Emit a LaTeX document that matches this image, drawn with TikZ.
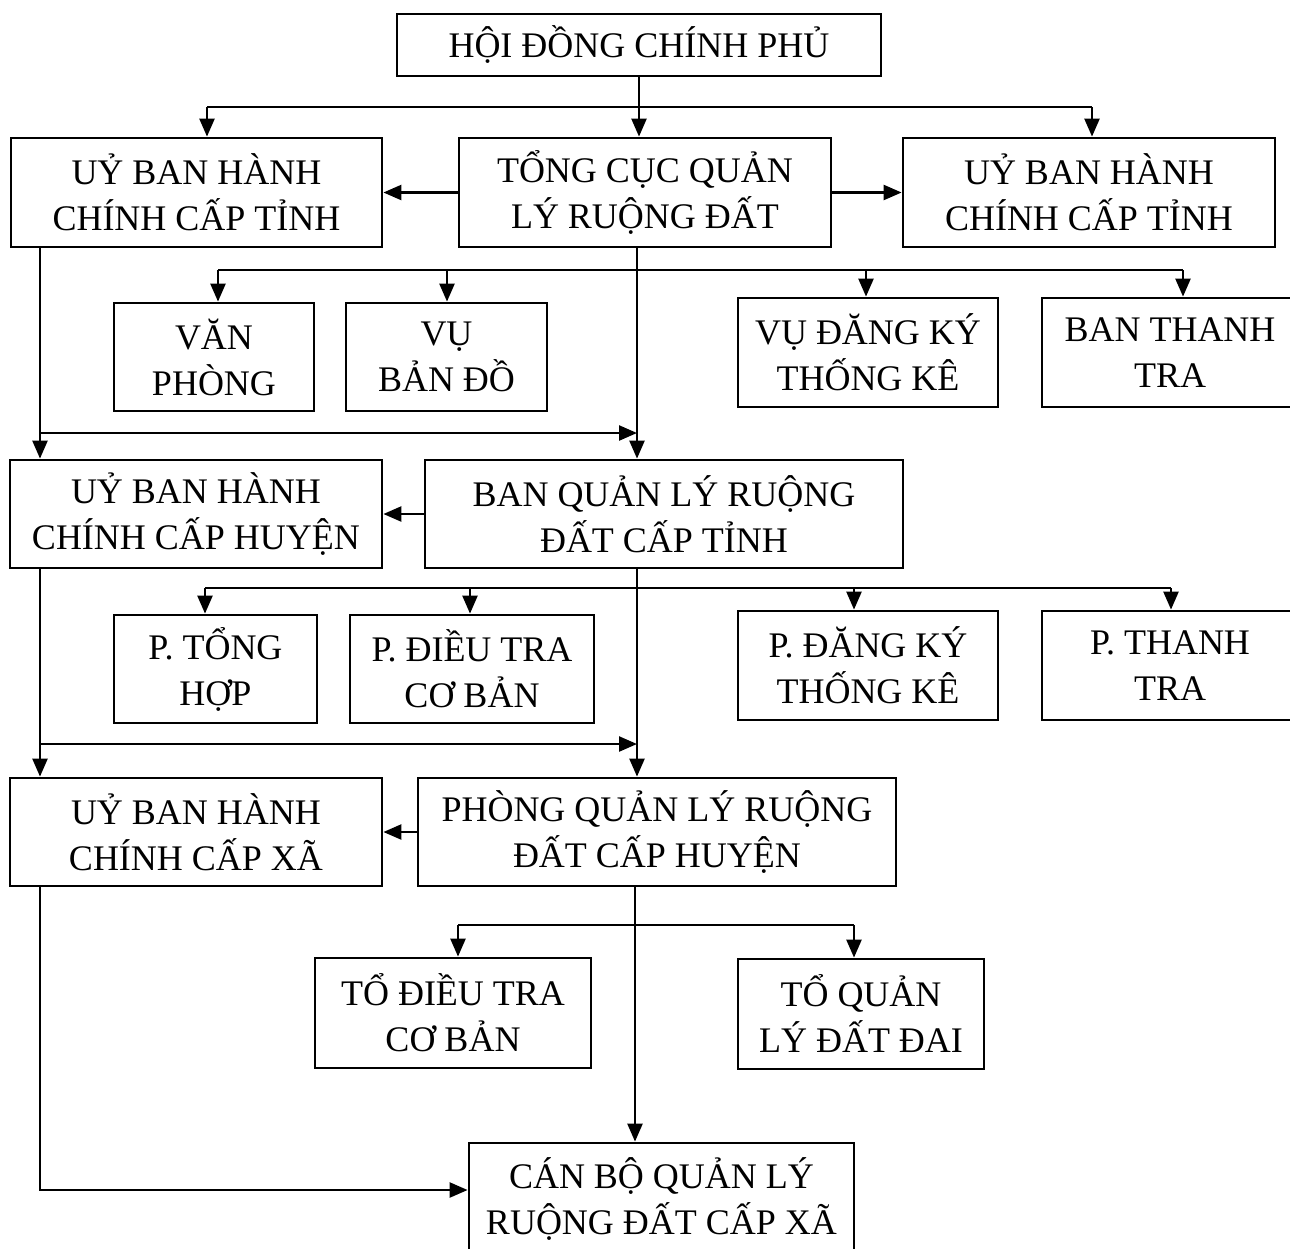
\documentclass[tikz,border=0pt]{standalone}
\usepackage{fontspec}
\setmainfont{Liberation Serif}
\usetikzlibrary{arrows.meta}
\begin{document}
\begin{tikzpicture}[x=0.5pt,y=-0.5pt,
  box/.style 2 args={draw, line width=1.4pt, inner sep=0pt, align=center,
    minimum width=#1*0.5pt, minimum height=#2*0.5pt,
    font=\fontsize{18}{23}\selectfont},
  link/.style={line width=1.2pt},
  arr/.style={link, -{Triangle[length=9pt,width=7.5pt]}}]
\useasboundingbox (0,0) rectangle (1290,1248);
\clip (0,0) rectangle (1290,1248);

% ---- boxes ----
\node[box={484}{62}]  (hd)   at (639,45)    {HỘI ĐỒNG CHÍNH PHỦ};
\node[box={371}{109}] (ubt1) at (196.5,192.5) {UỶ BAN HÀNH\\CHÍNH CẤP TỈNH};
\node[box={372}{109}] (tc)   at (645,192.5) {TỔNG CỤC QUẢN\\LÝ RUỘNG ĐẤT};
\node[box={372}{109}] (ubt2) at (1089,192.5) {UỶ BAN HÀNH\\CHÍNH CẤP TỈNH};

\node[box={200}{108}] (vp)   at (214,357)   {VĂN\\PHÒNG};
\node[box={201}{108}] (vbd)  at (446.5,357) {VỤ\\BẢN ĐỒ};
\node[box={260}{109}] (vdk)  at (868,352.5) {VỤ ĐĂNG KÝ\\THỐNG KÊ};
\node[box={256}{109}] (btt)  at (1170,352.5) {BAN THANH\\TRA};

\node[box={372}{108}] (ubh)  at (196,514)   {UỶ BAN HÀNH\\CHÍNH CẤP HUYỆN};
\node[box={478}{108}] (bqt)  at (664,514)   {BAN QUẢN LÝ RUỘNG\\ĐẤT CẤP TỈNH};

\node[box={203}{108}] (pth)  at (215.5,669) {P. TỔNG\\HỢP};
\node[box={244}{108}] (pdt)  at (472,669)   {P. ĐIỀU TRA\\CƠ BẢN};
\node[box={260}{109}] (pdk)  at (868,665.5) {P. ĐĂNG KÝ\\THỐNG KÊ};
\node[box={256}{109}] (ptt)  at (1170,665.5) {P. THANH\\TRA};

\node[box={372}{108}] (ubx)  at (196,832)   {UỶ BAN HÀNH\\CHÍNH CẤP XÃ};
\node[box={478}{108}] (pqh)  at (657,832)   {PHÒNG QUẢN LÝ RUỘNG\\ĐẤT CẤP HUYỆN};

\node[box={276}{110}] (tdt)  at (453,1013)  {TỔ ĐIỀU TRA\\CƠ BẢN};
\node[box={246}{110}] (tql)  at (861,1014)  {TỔ QUẢN\\LÝ ĐẤT ĐAI};

\node[box={385}{112}] (cb)   at (661.5,1199) {CÁN BỘ QUẢN LÝ\\RUỘNG ĐẤT CẤP XÃ};

% ---- junction points ----
\coordinate (h1) at (207,107);
\coordinate (h2) at (1092,107);
\coordinate (s1) at (637,270);
\coordinate (b1a) at (218,270);
\coordinate (b1b) at (447,270);
\coordinate (b1c) at (866,270);
\coordinate (b1d) at (1183,270);
\coordinate (L1) at (40,433);
\coordinate (s2) at (637,588);
\coordinate (b2a) at (205,588);
\coordinate (b2b) at (470,588);
\coordinate (b2c) at (854,588);
\coordinate (b2d) at (1171,588);
\coordinate (L2) at (40,744);
\coordinate (s3) at (635,925);
\coordinate (b3a) at (458,925);
\coordinate (b3b) at (854,925);
\coordinate (L3) at (40,1190);

% ---- government level ----
\draw[arr] (hd.south) -- (hd.south |- tc.north);
\draw[link] (h1) -- (h2);
\draw[arr] (h1) -- (h1 |- ubt1.north);
\draw[arr] (h2) -- (h2 |- ubt2.north);
\draw[arr] (tc.west) -- (ubt1.east);
\draw[arr] (tc.east) -- (ubt2.west);

% ---- central department ----
\draw[arr] (s1 |- tc.south) -- (s1 |- bqt.north);
\draw[link] (b1a) -- (b1d);
\draw[arr] (b1a) -- (b1a |- vp.north);
\draw[arr] (b1b) -- (b1b |- vbd.north);
\draw[arr] (b1c) -- (b1c |- vdk.north);
\draw[arr] (b1d) -- (b1d |- btt.north);
\draw[arr] (L1 |- ubt1.south) -- (L1 |- ubh.north);
\draw[arr] (L1) -- (s1 |- L1);

% ---- province level ----
\draw[arr] (bqt.west) -- (ubh.east);
\draw[arr] (s2 |- bqt.south) -- (s2 |- pqh.north);
\draw[link] (b2a) -- (b2d);
\draw[arr] (b2a) -- (b2a |- pth.north);
\draw[arr] (b2b) -- (b2b |- pdt.north);
\draw[arr] (b2c) -- (b2c |- pdk.north);
\draw[arr] (b2d) -- (b2d |- ptt.north);
\draw[arr] (L2 |- ubh.south) -- (L2 |- ubx.north);
\draw[arr] (L2) -- (s2 |- L2);

% ---- district level ----
\draw[arr] (pqh.west) -- (ubx.east);
\draw[arr] (s3 |- pqh.south) -- (s3 |- cb.north);
\draw[link] (b3a) -- (b3b);
\draw[arr] (b3a) -- (b3a |- tdt.north);
\draw[arr] (b3b) -- (b3b |- tql.north);
\draw[arr] (L3 |- ubx.south) -- (L3) -- (cb.west |- L3);
\end{tikzpicture}
\end{document}
